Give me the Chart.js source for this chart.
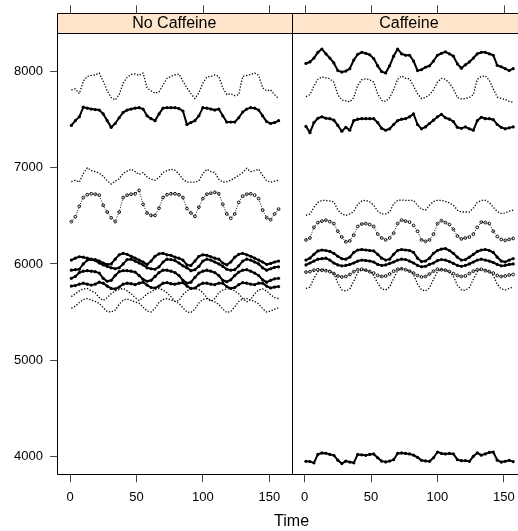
<!DOCTYPE html>
<html>
<head>
<meta charset="utf-8">
<script src="https://cdn.jsdelivr.net/npm/chart.js@4.4.1/dist/chart.umd.min.js"></script>
<style>
  html, body { margin: 0; padding: 0; background: #fff; overflow: hidden; }
  #wrap { position: absolute; left: 0; top: 0; width: 540px; height: 531px; }
</style>
</head>
<body>
<div id="wrap"><canvas id="chart" width="540" height="531"></canvas></div>
<script>
// sample times (every 3rd observation)
var times = [1,4,7,10,13,16,19,22,25,28,31,34,37,40,43,46,49,52,55,58,61,64,67,70,73,76,79,82,85,88,91,94,97,100,103,106,109,112,115,118,121,124,127,130,133,136,139,142,145,148,151,154,157];

var panels = ['No Caffeine', 'Caffeine'];
var xTicks = [0, 50, 100, 150];
var yTicks = [4000, 5000, 6000, 7000, 8000];

// ---- No Caffeine ----
var nc1 = [7810,7820,7770,7900,7950,7960,7965,7985,7900,7800, 7730,7705,7760,7880,7940,7970,7975,7960,7985,7830, 7800,7775,7790,7860,7930,7950,7965,7975,7900,7830, 7770,7720,7780,7880,7945,7950,7965,7950,7830,7760, 7770,7750,7760,7950,7960,7970,7985,7960,7830,7800, 7810,7760,7720];
var nc2 = [7440,7490,7530,7630,7620,7610,7605,7600,7560,7490, 7420,7460,7520,7575,7600,7610,7620,7625,7610,7540, 7510,7490,7560,7620,7625,7625,7625,7615,7590,7450, 7470,7490,7540,7625,7620,7610,7600,7610,7540,7475, 7475,7475,7520,7580,7610,7625,7620,7600,7540,7480, 7460,7470,7490];
var nc3 = [6855,6870,6850,6940,7000,6970,6960,6945,6910,6865, 6830,6860,6885,6940,6965,6985,6960,6930,6950,6905, 6880,6870,6900,6950,6970,6985,6975,6935,6880,6850, 6850,6850,6865,6940,6985,6960,6950,6880,6850,6855, 6870,6895,6920,6950,6995,6960,6970,6985,6920,6865, 6850,6860,6870];
var nc4 = [6440,6490,6600,6690,6720,6730,6725,6715,6610,6540, 6480,6440,6540,6690,6715,6725,6730,6765,6620,6530, 6505,6505,6580,6690,6720,6730,6730,6720,6690,6576, 6530,6495,6590,6680,6725,6735,6745,6730,6620,6520, 6475,6520,6640,6705,6725,6730,6715,6680,6560,6480, 6460,6520,6570];
var nc5 = [6040,6060,6075,6070,6060,6050,6045,6030,6010,5995, 6000,6050,6095,6110,6100,6080,6060,6040,6020,5995, 6030,6080,6105,6110,6095,6090,6070,6060,6040,5990, 5985,6030,6080,6095,6090,6075,6060,6050,6010,5990, 6020,6070,6100,6110,6095,6080,6060,6040,6020,5995, 6005,6020,6030];
var nc6 = [5935,5940,5945,6000,6040,6045,6035,6010,5990,5975, 5960,5950,5960,6000,6045,6050,6030,6010,5990,5960, 5950,5945,5970,6020,6050,6045,6035,6010,5980,5960, 5930,5940,5975,6030,6050,6040,6020,6000,5975,5945, 5935,5940,5980,6030,6050,6040,6020,6000,5960,5935, 5950,5965,5970];
var nc7 = [5850,5870,5910,5925,5930,5925,5920,5905,5850,5820, 5830,5880,5920,5930,5930,5925,5915,5880,5840,5820, 5830,5870,5910,5935,5935,5925,5910,5880,5830,5800, 5810,5860,5905,5925,5935,5925,5910,5880,5830,5815, 5835,5880,5915,5935,5940,5925,5905,5880,5835,5810, 5830,5845,5850];
var nc8 = [5770,5775,5790,5800,5790,5780,5790,5810,5800,5770, 5745,5740,5760,5790,5800,5795,5785,5800,5810,5780, 5755,5750,5770,5800,5805,5795,5790,5800,5805,5770, 5745,5750,5780,5800,5800,5790,5785,5800,5800,5765, 5745,5755,5785,5805,5800,5790,5785,5800,5800,5770, 5750,5760,5765];
var nc9 = [5660,5690,5720,5740,5745,5720,5700,5650,5620,5650, 5690,5720,5735,5745,5720,5690,5650,5620,5650,5690, 5710,5735,5745,5730,5700,5660,5610,5620,5680,5720, 5740,5745,5735,5700,5650,5610,5640,5700,5730,5740, 5745,5720,5690,5640,5605,5630,5690,5730,5740,5720, 5680,5650,5640];
var nc10 = [5540,5560,5600,5630,5640,5625,5610,5590,5545,5505, 5500,5520,5580,5625,5635,5620,5605,5590,5550,5510, 5500,5540,5600,5630,5640,5625,5610,5590,5545,5500, 5495,5530,5595,5630,5640,5625,5605,5580,5530,5495, 5505,5555,5610,5635,5640,5625,5610,5585,5535,5500, 5510,5530,5545];

// ---- Caffeine ----
var cf1 = [8085,8100,8140,8200,8235,8185,8140,8090,8010,7995, 8005,8030,8120,8180,8200,8190,8175,8135,8060,8000, 7985,8060,8160,8235,8185,8170,8170,8110,8010,8020, 8045,8060,8110,8170,8190,8205,8185,8160,8080,8035, 8070,8100,8140,8185,8200,8200,8185,8170,8065,8050, 8030,8010,8030];
var cf2 = [7740,7760,7850,7920,7945,7935,7925,7890,7760,7705, 7695,7685,7730,7860,7915,7925,7915,7890,7770,7700, 7690,7730,7810,7920,7955,7930,7925,7850,7770,7720, 7730,7760,7810,7890,7930,7920,7880,7820,7730,7715, 7720,7730,7760,7920,7950,7955,7910,7820,7735,7720, 7710,7690,7680];
var cf3 = [7430,7365,7470,7515,7530,7515,7510,7495,7440,7380, 7420,7390,7490,7505,7510,7510,7510,7510,7470,7410, 7390,7405,7450,7490,7505,7510,7530,7560,7450,7405, 7425,7460,7495,7530,7555,7520,7505,7480,7420,7410, 7425,7405,7390,7490,7525,7510,7510,7500,7450,7420, 7405,7415,7425];
var cf4 = [6505,6520,6590,6640,6660,6660,6655,6645,6560,6520, 6505,6520,6545,6620,6655,6662,6645,6610,6550,6520, 6520,6540,6625,6660,6665,6660,6660,6660,6610,6570, 6560,6610,6650,6662,6660,6650,6635,6610,6560,6540, 6540,6540,6580,6640,6660,6662,6640,6590,6545,6525, 6530,6550,6560];
var cf5 = [6250,6270,6380,6430,6445,6455,6440,6420,6340,6280, 6230,6240,6300,6390,6415,6420,6410,6390,6310,6270, 6250,6270,6320,6420,6455,6445,6435,6400,6340,6250, 6235,6250,6310,6420,6450,6430,6410,6360,6290,6260, 6270,6280,6310,6380,6435,6430,6420,6340,6285,6255, 6245,6255,6265];
var cf6 = [6040,6060,6100,6135,6145,6140,6130,6110,6080,6055, 6050,6070,6120,6145,6150,6145,6140,6135,6100,6060, 6040,6050,6100,6140,6150,6145,6140,6120,6060,6025, 6030,6060,6110,6140,6155,6160,6140,6110,6070,6040, 6045,6070,6100,6130,6145,6150,6140,6120,6070,6030, 6020,6040,6055];
var cf7 = [5990,6010,6030,6050,6055,6060,6040,6010,5990,5980, 5985,5995,6010,6030,6040,6035,6030,6020,5995,5985, 5990,6005,6020,6040,6050,6045,6030,6010,5985,5970, 5975,5995,6010,6035,6045,6040,6025,6005,5985,5975, 5985,6000,6020,6040,6050,6040,6030,6015,5995,5980, 5985,5995,6000];
var cf8 = [5915,5920,5935,5940,5935,5930,5920,5900,5875,5865, 5870,5890,5920,5940,5945,5935,5920,5905,5880,5870, 5875,5895,5925,5945,5950,5940,5925,5905,5880,5865, 5870,5895,5925,5945,5940,5935,5920,5900,5880,5870, 5875,5900,5925,5940,5945,5930,5920,5905,5880,5870, 5875,5885,5890];
var cf9 = [5745,5760,5850,5920,5945,5940,5930,5900,5800,5730, 5720,5740,5820,5910,5940,5935,5925,5880,5800,5740, 5730,5760,5850,5930,5950,5940,5930,5890,5790,5730, 5720,5750,5840,5920,5945,5935,5920,5870,5780,5730, 5725,5755,5840,5920,5945,5940,5925,5880,5790,5740, 5730,5745,5760];
var cf10 = [3948,3945,3932,4020,4035,4032,4020,4010,3960,3925, 3950,3940,3932,4020,4015,4010,4020,4025,3985,3950, 3942,3950,3965,4030,4035,4030,4025,4012,3990,3958, 3952,3948,3985,4045,4030,4025,4030,4025,3965,3955, 3955,3948,4000,4035,4012,4025,4040,4045,3960,3940, 3948,3958,3945];

// marker style per series: 'thick', 'thin' or 'open'
var ncSeries = [[nc1,'thin'],[nc2,'thick'],[nc3,'thin'],[nc4,'open'],[nc5,'thick'],[nc6,'thick'],[nc7,'thick'],[nc8,'thick'],[nc9,'thin'],[nc10,'thin']];
var cfSeries = [[cf1,'thick'],[cf2,'thin'],[cf3,'thick'],[cf4,'thin'],[cf5,'open'],[cf6,'thick'],[cf7,'thick'],[cf8,'open'],[cf9,'thin'],[cf10,'thick']];

// layout of the two side-by-side panels on one x scale
var XMIN = -9.8, XMAX = 166.8;
var SHIFT = XMAX - XMIN;          // second panel starts where the first ends
var STRIP_TOP = 13.3;

// beaded / dotted lines through the sampled values
var styles = {
  thick: { lineWidth: 2, dash: [], lineColor: '#000', r: 1.6, bg: '#000', bw: 0 },
  thin:  { lineWidth: 1.3, dash: [1.3, 1.7], lineColor: '#000', r: 0, bg: '#000', bw: 0 },
  open:  { lineWidth: 1, dash: [1, 1.5], lineColor: '#111', r: 1.4, bg: 'rgba(255,255,255,0)', bw: 1 }
};

function makeSet(vals, kind, shift) {
  var s = styles[kind];
  return {
    data: vals.map(function (v, i) { return { x: times[i] + shift, y: v }; }),
    showLine: true,
    borderColor: s.lineColor,
    borderWidth: s.lineWidth,
    borderDash: s.dash,
    borderJoinStyle: 'round',
    tension: 0,
    pointRadius: s.r,
    pointHoverRadius: s.r,
    pointBackgroundColor: s.bg,
    pointBorderColor: s.lineColor,
    pointBorderWidth: s.bw
  };
}

var datasets = [];
ncSeries.forEach(function (p) { datasets.push(makeSet(p[0], p[1], 0)); });
cfSeries.forEach(function (p) { datasets.push(makeSet(p[0], p[1], SHIFT)); });

var FONT = 'Liberation Sans, Arial, Helvetica, sans-serif';

// panel frames, strips and top tick marks
var latticePlugin = {
  id: 'lattice',
  afterDraw: function (chart) {
    var ctx = chart.ctx, a = chart.chartArea, xs = chart.scales.x;
    var mid = xs.getPixelForValue(XMAX);
    ctx.save();
    // strips
    ctx.fillStyle = '#ffe5cc';
    ctx.fillRect(a.left, STRIP_TOP, a.right - a.left, a.top - STRIP_TOP);
    ctx.fillStyle = '#000';
    ctx.font = '16px ' + FONT;
    ctx.textAlign = 'center';
    ctx.textBaseline = 'middle';
    ctx.fillText(panels[0], (a.left + mid) / 2, (STRIP_TOP + a.top) / 2 + 0.5);
    ctx.fillText(panels[1], (mid + a.right) / 2, (STRIP_TOP + a.top) / 2 + 0.5);
    // frames
    ctx.strokeStyle = '#000';
    ctx.lineWidth = 1;
    ctx.beginPath();
    ctx.rect(Math.round(a.left) + 0.5, Math.round(STRIP_TOP) + 0.5, Math.round(a.right - a.left), Math.round(a.bottom - STRIP_TOP));
    ctx.moveTo(Math.round(mid) + 0.5, Math.round(STRIP_TOP));
    ctx.lineTo(Math.round(mid) + 0.5, Math.round(a.bottom));
    ctx.moveTo(a.left, Math.round(a.top) + 0.5);
    ctx.lineTo(a.right, Math.round(a.top) + 0.5);
    ctx.stroke();
    // top ticks
    ctx.strokeStyle = '#444';
    ctx.beginPath();
    [0, SHIFT].forEach(function (sh) {
      xTicks.forEach(function (t) {
        var px = Math.round(xs.getPixelForValue(t + sh)) + 0.5;
        ctx.moveTo(px, STRIP_TOP - 8);
        ctx.lineTo(px, STRIP_TOP);
      });
    });
    ctx.stroke();
    ctx.restore();
  }
};

new Chart(document.getElementById('chart'), {
  type: 'scatter',
  data: { datasets: datasets },
  plugins: [latticePlugin],
  options: {
    responsive: false,
    animation: false,
    devicePixelRatio: 1,
    layout: { padding: { left: 0, right: 13.8, top: 33.3, bottom: 0 } },
    plugins: { legend: { display: false }, tooltip: { enabled: false } },
    scales: {
      x: {
        type: 'linear',
        min: XMIN,
        max: XMIN + 2 * SHIFT,
        afterFit: function (s) { s.height = 56.7; },
        afterBuildTicks: function (s) {
          var t = [];
          [0, SHIFT].forEach(function (sh) { xTicks.forEach(function (v) { t.push({ value: v + sh }); }); });
          s.ticks = t;
        },
        grid: { drawOnChartArea: false, drawTicks: true, tickLength: 8, color: '#444' },
        border: { display: false },
        ticks: {
          color: '#000',
          padding: 7.5,
          maxRotation: 0,
          autoSkip: false,
          font: { family: FONT, size: 13 },
          callback: function (v) { return String(Math.round(v >= XMAX ? v - SHIFT : v)); }
        },
        title: { display: true, text: 'Time', color: '#000', padding: { top: 0, bottom: 0 }, font: { family: FONT, size: 16 } }
      },
      y: {
        type: 'linear',
        min: 3813,
        max: 8398,
        afterFit: function (s) { s.width = 57; },
        afterBuildTicks: function (s) { s.ticks = yTicks.map(function (v) { return { value: v }; }); },
        grid: { drawOnChartArea: false, drawTicks: true, tickLength: 7, color: '#444' },
        border: { display: false },
        ticks: {
          color: '#000',
          padding: 7,
          font: { family: FONT, size: 13 },
          callback: function (v) { return String(v); }
        }
      }
    }
  }
});
</script>
</body>
</html>
